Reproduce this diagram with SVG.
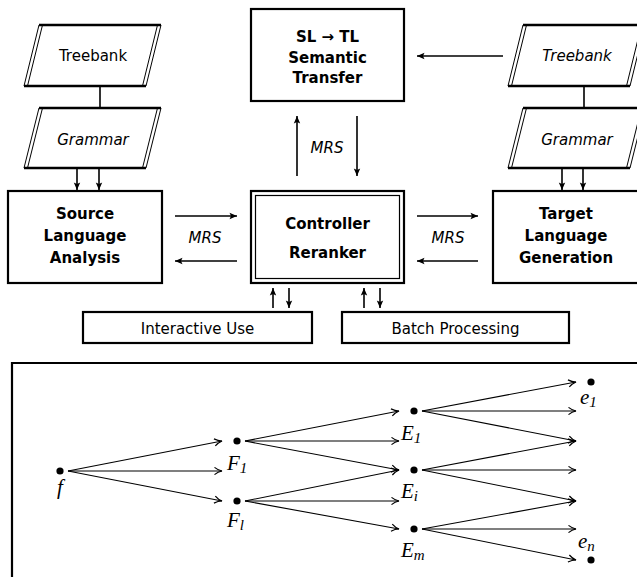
<svg xmlns="http://www.w3.org/2000/svg" width="637" height="577" viewBox="0 0 637 577">
<style>
.box{fill:#fff;stroke:#000;stroke-width:2.2}
.thin{fill:none;stroke:#000;stroke-width:1}
.edge{fill:none;stroke:#000;stroke-width:2.4}
.t{font-family:"DejaVu Sans",sans-serif;font-size:15px;fill:#000;text-anchor:middle}
.b{font-weight:bold}
.i{font-style:oblique}
.c{fill:none;stroke:#000;stroke-width:1.6}
.m{font-family:"Liberation Serif",serif;font-style:italic;font-size:21px;fill:#000}
.s{font-size:15px}
.a{fill:none;stroke:#000;stroke-width:1.1}
.dot{fill:#000}
</style>
<defs>
<marker id="tri" markerUnits="userSpaceOnUse" markerWidth="10" markerHeight="10" viewBox="-8 -5 10 10" refX="0" refY="0" orient="auto">
<path d="M0,0 L-7.5,-3.2 L-6,0 L-7.5,3.2 z" fill="#000"/>
</marker>
<marker id="to" markerUnits="userSpaceOnUse" markerWidth="12" markerHeight="12" viewBox="-9 -6 11 12" refX="0" refY="0" orient="auto">
<path d="M-7.5,-3.6 C-5,-1.6 -2,-0.4 0,0 C-2,0.4 -5,1.6 -7.5,3.6" fill="none" stroke="#000" stroke-width="1.2"/>
</marker>
</defs>

<g id="treebank-src">
<path class="edge" d="M39,25 H161 M24,86 H146"/>
<path class="thin" d="M24,86 L39,25 M27.5,86 L42.5,25 M146,86 L161,25 M142.5,86 L157.5,25"/>
<text class="t" x="93" y="61">Treebank</text>
</g>
<g id="grammar-src">
<path class="edge" d="M39,108 H161 M24,168 H146"/>
<path class="thin" d="M24,168 L39,108 M27.5,168 L42.5,108 M146,168 L161,108 M142.5,168 L157.5,108"/>
<text class="t i" x="93" y="145">Grammar</text>
</g>
<g id="treebank-tgt">
<path class="edge" d="M523,25 H645 M508,86 H630"/>
<path class="thin" d="M508,86 L523,25 M511.5,86 L526.5,25 M630,86 L645,25 M626.5,86 L641.5,25"/>
<text class="t i" x="577" y="61">Treebank</text>
</g>
<g id="grammar-tgt">
<path class="edge" d="M523,108 H645 M508,168 H630"/>
<path class="thin" d="M508,168 L523,108 M511.5,168 L526.5,108 M630,168 L645,108 M626.5,168 L641.5,108"/>
<text class="t i" x="577" y="145">Grammar</text>
</g>
<g id="transfer">
<rect class="box" x="251" y="9" width="153" height="92"/>
<text class="t b" x="327.5" y="42">SL → TL</text>
<text class="t b" x="327.5" y="63">Semantic</text>
<text class="t b" x="327.5" y="83">Transfer</text>
</g>
<g id="analysis">
<rect class="box" x="8" y="191" width="154" height="92"/>
<text class="t b" x="85" y="219">Source</text>
<text class="t b" x="85" y="241">Language</text>
<text class="t b" x="85" y="263">Analysis</text>
</g>
<g id="controller">
<rect class="box" x="251" y="191" width="153" height="92"/>
<rect x="255.5" y="195.5" width="144" height="83" fill="none" stroke="#000" stroke-width="1.2"/>
<text class="t b" x="327.5" y="229">Controller</text>
<text class="t b" x="327.5" y="258">Reranker</text>
</g>
<g id="generation">
<rect class="box" x="493" y="191" width="154" height="92"/>
<text class="t b" x="566" y="219">Target</text>
<text class="t b" x="566" y="241">Language</text>
<text class="t b" x="566" y="263">Generation</text>
</g>
<g id="interactive">
<rect class="box" x="83" y="312" width="229" height="31"/>
<text class="t" x="197.5" y="334">Interactive Use</text>
</g>
<g id="batch">
<rect class="box" x="342" y="312" width="227" height="31"/>
<text class="t" x="455.5" y="334">Batch Processing</text>
</g>

<g id="connectors">
<path class="c" d="M100,86 V108 M584,86 V108"/>
<path class="c" marker-end="url(#tri)" d="M77,168 V190"/>
<path class="c" marker-end="url(#tri)" d="M99,168 V190"/>
<path class="c" marker-end="url(#tri)" d="M562,168 V190"/>
<path class="c" marker-end="url(#tri)" d="M583,168 V190"/>
<path class="c" marker-end="url(#tri)" d="M175,216 H237"/>
<path class="c" marker-end="url(#tri)" d="M237,261 H175"/>
<path class="c" marker-end="url(#tri)" d="M417,216 H478"/>
<path class="c" marker-end="url(#tri)" d="M478,261 H417"/>
<path class="c" marker-end="url(#tri)" d="M297,176 V116"/>
<path class="c" marker-end="url(#tri)" d="M357,116 V176"/>
<path class="c" marker-end="url(#tri)" d="M503,56 H417"/>
<path class="c" marker-end="url(#tri)" d="M273,308 V288"/>
<path class="c" marker-end="url(#tri)" d="M289,288 V308"/>
<path class="c" marker-end="url(#tri)" d="M364,308 V288"/>
<path class="c" marker-end="url(#tri)" d="M380,288 V308"/>
<text class="t i" x="205" y="243">MRS</text>
<text class="t i" x="448" y="243">MRS</text>
<text class="t i" x="327" y="153">MRS</text>
</g>

<g id="lattice">
<path d="M12,580 V363 H640" fill="none" stroke="#000" stroke-width="2.2"/>
<g id="nodes">
<circle class="dot" cx="60" cy="471" r="3.6"/>
<circle class="dot" cx="237" cy="441" r="3.6"/>
<circle class="dot" cx="237" cy="501" r="3.6"/>
<circle class="dot" cx="414" cy="411" r="3.6"/>
<circle class="dot" cx="414" cy="470" r="3.6"/>
<circle class="dot" cx="414" cy="529" r="3.6"/>
<circle class="dot" cx="591" cy="382" r="3.6"/>
<circle class="dot" cx="591" cy="560" r="3.6"/>
<text class="m" x="60" y="494" text-anchor="middle">f</text>
<text class="m" x="227" y="470">F<tspan class="s" dy="3">1</tspan></text>
<text class="m" x="227" y="527">F<tspan class="s" dy="3">l</tspan></text>
<text class="m" x="401" y="440">E<tspan class="s" dy="3">1</tspan></text>
<text class="m" x="401" y="498">E<tspan class="s" dy="3">i</tspan></text>
<text class="m" x="401" y="557">E<tspan class="s" dy="3">m</tspan></text>
<text class="m" x="580" y="404">e<tspan class="s" dy="3">1</tspan></text>
<text class="m" x="578" y="548">e<tspan class="s" dy="3">n</tspan></text>
</g>
<g id="arrows">
<path class="a" marker-end="url(#to)" d="M68,471 L222,441"/>
<path class="a" marker-end="url(#to)" d="M68,471 L222,471"/>
<path class="a" marker-end="url(#to)" d="M68,471 L222,501"/>
<path class="a" marker-end="url(#to)" d="M245,441 L399,411"/>
<path class="a" marker-end="url(#to)" d="M245,441 L399,441"/>
<path class="a" marker-end="url(#to)" d="M245,441 L399,470"/>
<path class="a" marker-end="url(#to)" d="M245,501 L399,470"/>
<path class="a" marker-end="url(#to)" d="M245,501 L399,501"/>
<path class="a" marker-end="url(#to)" d="M245,501 L399,529"/>
<path class="a" marker-end="url(#to)" d="M422,411 L576,382"/>
<path class="a" marker-end="url(#to)" d="M422,411 L576,411"/>
<path class="a" marker-end="url(#to)" d="M422,411 L576,441"/>
<path class="a" marker-end="url(#to)" d="M422,470 L576,441"/>
<path class="a" marker-end="url(#to)" d="M422,470 L576,470"/>
<path class="a" marker-end="url(#to)" d="M422,470 L576,501"/>
<path class="a" marker-end="url(#to)" d="M422,529 L576,501"/>
<path class="a" marker-end="url(#to)" d="M422,529 L576,529"/>
<path class="a" marker-end="url(#to)" d="M422,529 L576,560"/>
</g>
</g>
</svg>
